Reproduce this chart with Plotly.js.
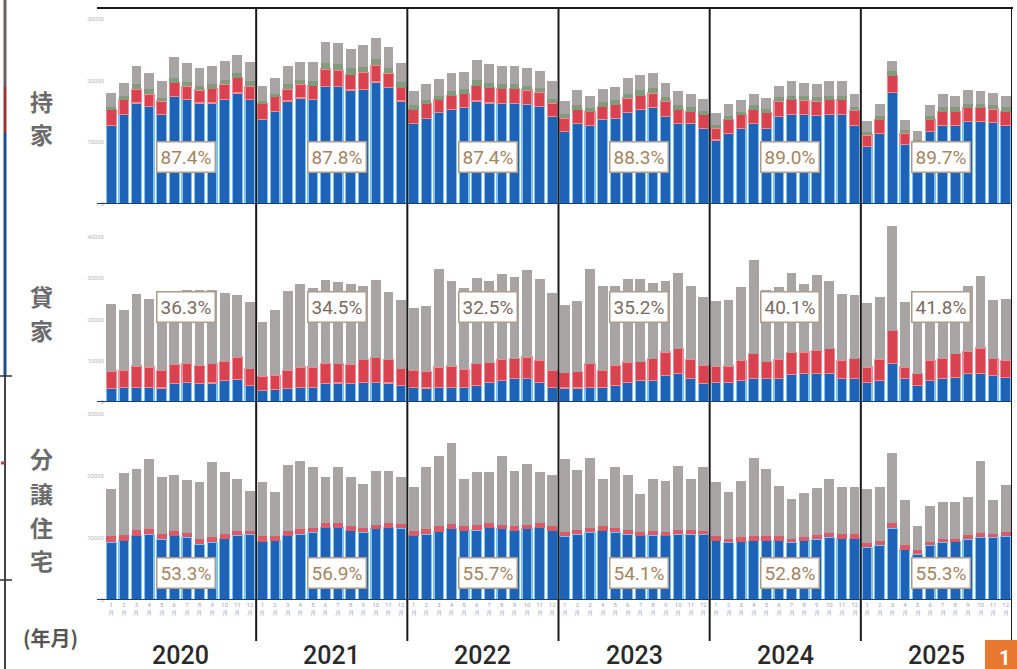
<!DOCTYPE html>
<html><head><meta charset="utf-8">
<script src="https://cdn.plot.ly/plotly-3.0.1.min.js"></script>
<style>html,body{margin:0;padding:0;background:#fff}#chart{width:1017px;height:669px}</style>
</head><body><div id="chart"></div>
<script>
const years = ['2020','2021','2022','2023','2024','2025'];
const months = ['1','2','3','4','5','6','7','8','9','10','11','12'];

// 持家
const mochiieBlue = [
 12800,14500,16400,15800,14500,17500,16900,16400,16400,16900,18000,17000,
 13700,15000,16700,17200,16900,19000,19000,18500,18600,19800,18900,16700,
 13100,13900,14800,15300,15600,16700,16400,16300,16300,16100,15800,14200,
 11700,13000,12800,13700,13900,14800,15300,15600,14200,13100,13000,12300,
 10400,11500,12300,13100,12300,14200,14500,14500,14300,14500,14500,12800,
 9300,11500,18100,9600,7900,11700,12800,12800,13400,13400,13200,12800];
const mochiieRed = [
 2500,2400,2200,2000,2200,2200,2200,2100,2300,2500,2500,2100,
 2600,2400,1900,2200,2300,2900,2700,2500,2800,2700,2300,2200,
 2200,2400,2100,2300,2300,2500,2500,2400,2400,2400,2300,2200,
 2200,2300,2200,2100,2200,2400,2300,2400,2500,2200,2000,2200,
 1900,2200,2200,2200,2500,2500,2400,2300,2400,2400,2400,2400,
 1900,2200,2700,1900,1900,2000,2200,2200,2200,2200,2200,2200];
const mochiieGreen = [
 500,600,800,800,500,700,700,600,700,700,700,800,
 400,400,800,800,700,900,1000,1000,900,1000,900,900,
 700,600,600,700,700,900,800,700,700,600,800,600,
 700,700,600,700,700,700,900,900,700,700,700,600,
 500,500,500,700,600,700,700,700,700,700,700,600,
 500,500,800,500,600,600,700,700,700,700,700,700];
const mochiieGray = [
 2200,2200,3000,2600,2700,3400,3000,2900,3000,3100,3000,3100,
 2500,2700,3000,2900,3200,3500,3500,3100,3500,3500,3300,3000,
 2300,2500,2800,2900,2800,3300,3000,3000,3000,2900,2700,2900,
 2100,2500,1900,2200,2200,2600,2400,2300,2300,2300,2200,1900,
 2000,2100,1800,1900,1800,1800,2300,2200,2000,2300,2300,2100,
 1700,2100,1600,1700,1500,1800,2100,1900,2200,2000,1900,1800];

// 貸家
const kashiyaBlue = [
 3200,3500,3600,3600,3400,4400,4800,4400,4600,5200,5400,4000,
 2800,3000,3200,3600,3600,4400,4600,4400,4800,4800,4600,4000,
 3600,3400,3600,3600,3600,4000,4800,5200,5600,5600,4800,3600,
 3400,3400,3600,3600,4000,4800,5200,5200,6500,6900,5600,4400,
 4800,4800,5200,5600,5600,5600,6600,6900,6900,6900,5600,5600,
 4800,5200,9300,5600,4000,5200,5600,6000,6900,6900,6500,6000];
const kashiyaRed = [
 4300,4200,5100,4900,4300,4700,4600,4500,4700,4700,5500,4100,
 3400,3500,4500,4900,4900,5000,4700,4700,5400,5900,5600,4100,
 4100,4000,4900,5100,4300,5300,4700,5100,4900,5300,5300,4100,
 3700,3900,5700,4100,4900,4900,4600,5300,5600,6000,4700,4500,
 3900,3900,4900,6100,4200,4700,5300,5200,5600,6000,4500,4900,
 3700,5100,8000,2900,2900,4900,5000,5700,5400,6200,4000,4100];
const kashiyaGray = [
 16300,14500,17500,16500,18300,17400,17600,18300,17700,16600,15100,16100,
 13200,15800,19200,20100,19000,20200,19700,19500,17800,18900,16400,16700,
 15000,15800,23600,20500,19600,20700,19900,20700,19700,21000,19600,18800,
 16400,17100,23000,20500,19300,20000,20000,18400,17300,18400,17800,16500,
 15700,16100,17700,22800,17200,17500,19400,16500,18300,16300,16100,15500,
 15500,15100,25300,15700,18100,16000,15800,15000,15900,17500,14300,14900];

// 分譲住宅
const bunjoBlue = [
 9300,9600,10400,10600,9800,10400,10100,9000,9300,9900,10500,10600,
 9400,9600,10400,10600,10900,11700,11700,11200,10900,11500,11700,11600,
 10400,10600,11000,11500,11200,11300,11700,11500,11200,11500,11700,11200,
 10300,10600,10900,11200,10900,10600,10400,10500,10400,10600,10600,10600,
 9600,9300,9400,9600,9600,9600,9300,9600,9800,10100,9900,9900,
 8500,8800,11600,8100,7400,8800,9300,9400,9800,10100,10100,10300];
const bunjoRed = [
 1100,900,900,900,800,800,700,800,800,700,700,600,
 1000,800,800,900,800,800,800,800,700,600,700,700,
 800,900,900,800,800,800,700,600,700,600,700,700,
 700,700,800,800,700,700,600,700,600,700,700,600,
 700,600,700,700,700,700,600,500,700,700,700,700,
 700,800,900,700,600,500,500,500,700,700,500,600];
const bunjoGray = [
 7500,10000,9900,11200,9200,9000,8600,9200,12100,10100,8300,6400,
 8700,7000,10600,11000,9700,7300,8900,7900,7200,8800,8500,7500,
 7000,9900,11300,13000,7600,8600,8200,11100,9000,9800,8300,8300,
 11700,9700,11300,7600,9800,8800,6100,8400,8200,10400,8300,10200,
 8800,7500,9100,12700,10900,8100,6400,7200,7500,8800,7600,7600,
 8700,8600,11200,7400,3900,5800,6100,6000,6100,11700,5600,7600];

const mochiiePct = ['87.4%','87.8%','87.4%','88.3%','89.0%','89.7%'];
const kashiyaPct = ['36.3%','34.5%','32.5%','35.2%','40.1%','41.8%'];
const bunjoPct   = ['53.3%','56.9%','55.7%','54.1%','52.8%','55.3%'];
const rowLabels = [['持','家'], ['貸','家'], ['分','譲','住','宅']];

const X = mochiieBlue.map((_, i) => i);
const tickText = X.map(i => months[i % 12] + '<br>月');

const C = {blue:'#1f63b9', red:'#d8434f', green:'#849a7c', gray:'#a8a4a4'};
function bar(y, color, ax, line) {
  return {type:'bar', x:X, y:y, yaxis:ax, xaxis:'x',
    marker:{color:color, line:{color:line || color, width: line ? 1.2 : 0}},
    hoverinfo:'skip', showlegend:false};
}
const data = [
  bar(mochiieBlue, C.blue, 'y', '#7cc3f0'), bar(mochiieRed, C.red, 'y', '#f08a94'),
  bar(mochiieGreen, C.green, 'y'), bar(mochiieGray, C.gray, 'y'),
  bar(kashiyaBlue, C.blue, 'y2', '#7cc3f0'), bar(kashiyaRed, C.red, 'y2', '#f08a94'),
  bar(kashiyaGray, C.gray, 'y2'),
  bar(bunjoBlue, C.blue, 'y3', '#7cc3f0'), bar(bunjoRed, '#dc5a68', 'y3'),
  bar(bunjoGray, C.gray, 'y3')
];

const H = 592; // plot height px
const py = abs => (600 - abs) / H;       // absolute pixel y -> paper
const px = abs => (abs - 105) / 907;     // absolute pixel x -> paper

const tickFont = {size:6, color:'#b8b8b8', family:'Roboto'};
function yax(domain, range, vals) {
  return {domain:domain, range:range, tickvals:vals, ticktext:vals.map(String),
    showgrid:false, zeroline:false, showline:false, ticks:'', tickfont:tickFont,
    fixedrange:true, anchor:'x'};
}

const shapes = [];
for (let k = 1; k <= 6; k++) {
  shapes.push({type:'line', xref:'x', yref:'paper', x0:12*k-0.5, x1:12*k-0.5,
    y0:py(8), y1:py(641), line:{color:'#1a1a1a', width:2}});
}
shapes.push({type:'line', xref:'paper', yref:'paper', x0:px(97), x1:px(1013), y0:py(8), y1:py(8), line:{color:'#1a1a1a', width:2}});
['y','y2','y3'].forEach(ax => {
  shapes.push({type:'line', xref:'paper', yref:ax, x0:px(97), x1:1, y0:0, y1:0, line:{color:'#173f78', width:2}});
});
// left cropped frame remnants
const L = (y0, y1, c, w) => shapes.push({type:'line', xref:'paper', yref:'paper', x0:px(5), x1:px(5), y0:py(y0), y1:py(y1), line:{color:c, width:w}});
L(0, 87, '#6a6262', 3); L(87, 133, '#9a3434', 3); L(133, 376, '#1d4f8f', 3); L(376, 669, '#444', 2);
shapes.push({type:'line', xref:'paper', yref:'paper', x0:px(0), x1:px(12), y0:py(376), y1:py(376), line:{color:'#333', width:1.5}});
shapes.push({type:'line', xref:'paper', yref:'paper', x0:px(0), x1:px(12), y0:py(580), y1:py(580), line:{color:'#333', width:1.5}});
shapes.push({type:'line', xref:'paper', yref:'paper', x0:px(1), x1:px(5), y0:py(463), y1:py(463), line:{color:'#b04050', width:3}});
// orange badge
shapes.push({type:'rect', xref:'paper', yref:'paper', x0:px(985), x1:px(1025), y0:py(640), y1:py(675), fillcolor:'#e8782f', line:{width:0}});

const annotations = [];
const boxY = [['y', 7600, mochiiePct, '#a6845f'], ['y2', 23000, kashiyaPct, '#7b6b60'], ['y3', 4350, bunjoPct, '#a6845f']];
boxY.forEach(([ax, yv, arr, col]) => {
  arr.forEach((t, k) => {
    annotations.push({xref:'x', yref:ax, x:12*k+5.9, y:yv, text:t, showarrow:false,
      font:{family:'Roboto', size:19, color:col}, bgcolor:'#ffffff',
      bordercolor:'#b09a88', borderwidth:1.5, borderpad:3});
  });
});
years.forEach((yr, k) => {
  annotations.push({xref:'x', yref:'paper', x:12*k+5.5, y:py(655), text:yr, showarrow:false,
    font:{family:'Roboto', size:25, color:'#2a2a2a', weight:500}, xanchor:'center', yanchor:'middle'});
});
const rowY = [[101, 134], [296, 330], [458, 493, 527, 560]];
rowLabels.forEach((chars, i) => {
  chars.forEach((ch, j) => {
    annotations.push({xref:'paper', yref:'paper', x:px(41), y:py(rowY[i][j]), text:'<b>'+ch+'</b>', showarrow:false,
      font:{family:'Noto Sans CJK JP', size:23, color:'#6b6b6b'}, xanchor:'center', yanchor:'middle'});
  });
});
annotations.push({xref:'paper', yref:'paper', x:px(50), y:py(637), text:'<b>(年月)</b>', showarrow:false,
  font:{family:'Noto Sans CJK JP', size:20, color:'#555'}, xanchor:'center', yanchor:'middle'});
annotations.push({xref:'paper', yref:'paper', x:px(1004), y:py(658), text:'<b>1</b>', showarrow:false,
  font:{family:'Roboto', size:20, color:'#ffffff'}, xanchor:'center', yanchor:'middle'});

const layout = {
  width:1017, height:669, margin:{l:105, r:5, t:8, b:69},
  paper_bgcolor:'#ffffff', plot_bgcolor:'#ffffff',
  barmode:'stack', bargap:0.22, showlegend:false,
  font:{family:'Roboto'},
  xaxis:{range:[-0.5, 71.5], tickvals:X, ticktext:tickText, tickangle:0,
    tickfont:{size:6, color:'#98a4b8', family:'Roboto'}, showgrid:false, zeroline:false,
    showline:false, ticks:'', anchor:'y3', fixedrange:true},
  yaxis: yax([py(204), 1], [0, 31800], [0,10000,20000,30000]),
  yaxis2: yax([py(402), py(205)], [0, 47700], [0,10000,20000,30000,40000]),
  yaxis3: yax([0, py(403)], [0, 31800], [0,10000,20000,30000]),
  shapes:shapes, annotations:annotations
};
Plotly.newPlot('chart', data, layout, {displayModeBar:false, staticPlot:true});
</script></body></html>
